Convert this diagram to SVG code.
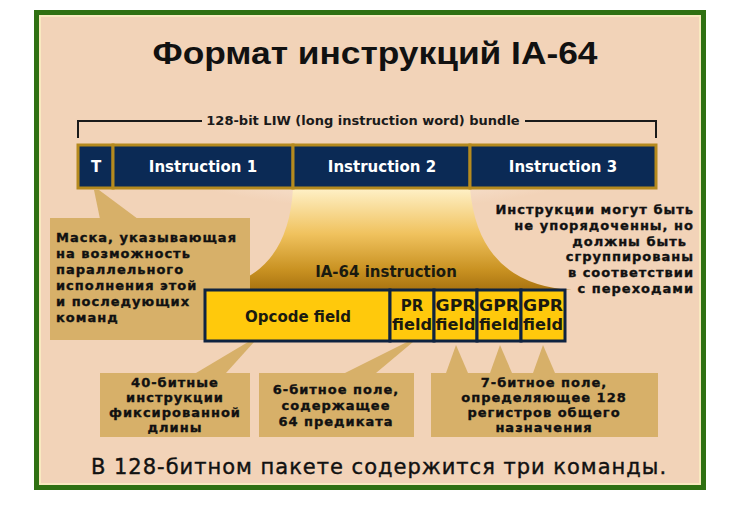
<svg xmlns="http://www.w3.org/2000/svg" width="752" height="509" viewBox="0 0 752 509">
<defs>
<linearGradient id="cone" x1="0" y1="0" x2="0" y2="1">
<stop offset="0" stop-color="#FFF1C8"/>
<stop offset="0.45" stop-color="#F0C25E"/>
<stop offset="0.8" stop-color="#C99222"/>
<stop offset="1" stop-color="#A97310"/>
</linearGradient>
<radialGradient id="halo" cx="0.5" cy="0" r="0.6">
<stop offset="0" stop-color="#FAE8DA"/>
<stop offset="0.8" stop-color="#F7E2D0"/>
<stop offset="1" stop-color="#F2D3B8"/>
</radialGradient>
<clipPath id="below">
<rect x="40" y="188" width="660" height="120"/>
</clipPath>
<style>
.tan{fill:#D7B069}
.t{font-family:"DejaVu Sans",Verdana,sans-serif;font-weight:bold;font-size:13px;letter-spacing:1px;fill:#111;stroke:#111;stroke-width:0.35px}
.w{font-family:"DejaVu Sans",Verdana,sans-serif;font-weight:bold;font-size:15px;fill:#FFFFFF;text-anchor:middle}
.f{font-family:"DejaVu Sans",Verdana,sans-serif;font-weight:bold;font-size:15px;fill:#1A1A10;text-anchor:middle}
.cell{fill:#0B2A55;stroke:#B58A1E;stroke-width:3}
.fld{fill:#FFC90C;stroke:#0E2340;stroke-width:3}
</style>
</defs>
<rect x="0" y="0" width="752" height="509" fill="#FFFFFF"/>
<rect id="frame" x="36.5" y="12.5" width="667" height="475" fill="#F2D3B8" stroke="#2F7012" stroke-width="5"/>
<rect x="40" y="16" width="660" height="468" fill="none" stroke="#F8E9C0" stroke-width="2"/>
<text id="title" x="375" y="64" font-family="Liberation Sans,Arial,sans-serif" font-weight="bold" font-size="31" fill="#111" text-anchor="middle" textLength="445" lengthAdjust="spacingAndGlyphs">Формат инструкций IA-64</text>

<ellipse cx="382" cy="188" rx="275" ry="105" fill="url(#halo)" clip-path="url(#below)"/>

<g id="connectors">
<path d="M78 138 V121 H202 M525 121 H656 V138" fill="none" stroke="#1A1A1A" stroke-width="2"/>
<polygon class="tan" points="94,190 99,190 138,219 100,219"/>
<path d="M293 188 H470 Q478 284 572 290 H203 Q288 282 293 188 Z" fill="url(#cone)"/>
<polygon class="tan" points="248,342 254,342 226,373 196,373"/>
<polygon class="tan" points="407,342 413,342 376,373 345,373"/>
<polygon class="tan" points="456,345 446,373 468,373"/>
<polygon class="tan" points="500,345 490,373 512,373"/>
<polygon class="tan" points="543,345 533,373 555,373"/>
</g>

<text id="bundle-label" x="363" y="125" font-family="DejaVu Sans,Verdana,sans-serif" font-weight="bold" font-size="13" fill="#1A1A1A" text-anchor="middle">128-bit LIW (long instruction word) bundle</text>

<g id="bundle">
<rect class="cell" x="78" y="145" width="35" height="43"/>
<text class="w" x="96" y="172">T</text>
<rect class="cell" x="113" y="145" width="180" height="43"/>
<text class="w" x="203" y="172">Instruction 1</text>
<rect class="cell" x="293" y="145" width="177" height="43"/>
<text class="w" x="382" y="172">Instruction 2</text>
<rect class="cell" x="470" y="145" width="186" height="43"/>
<text class="w" x="563" y="172">Instruction 3</text>
</g>

<g id="mask-note">
<rect class="tan" x="50" y="218" width="200" height="122"/>
<text class="t" x="56" y="242">Маска, указывающая</text>
<text class="t" x="56" y="258">на возможность</text>
<text class="t" x="56" y="274">параллельного</text>
<text class="t" x="56" y="290">исполнения этой</text>
<text class="t" x="56" y="306">и последующих</text>
<text class="t" x="56" y="322">команд</text>
</g>

<g id="order-note">
<text class="t" x="694" y="214" text-anchor="end">Инструкции могут быть</text>
<text class="t" x="694" y="230" text-anchor="end">не упорядоченны, но</text>
<text class="t" x="687" y="246" text-anchor="end">должны быть</text>
<text class="t" x="694" y="261" text-anchor="end">сгруппированы</text>
<text class="t" x="694" y="277" text-anchor="end">в соответствии</text>
<text class="t" x="694" y="293" text-anchor="end">с переходами</text>
</g>

<text id="ia64-label" x="386" y="277" class="f">IA-64 instruction</text>

<g id="ia64-instruction">
<rect class="fld" x="205" y="290" width="185" height="51"/>
<text class="f" x="298" y="322">Opcode field</text>
<rect class="fld" x="390" y="290" width="44" height="51"/>
<text class="f" x="412" y="311">PR</text>
<text class="f" x="412" y="330" textLength="40" lengthAdjust="spacingAndGlyphs">field</text>
<rect class="fld" x="434" y="290" width="43" height="51"/>
<text class="f" x="455.5" y="311" textLength="40" lengthAdjust="spacingAndGlyphs">GPR</text>
<text class="f" x="455.5" y="330" textLength="40" lengthAdjust="spacingAndGlyphs">field</text>
<rect class="fld" x="477" y="290" width="44" height="51"/>
<text class="f" x="499" y="311" textLength="40" lengthAdjust="spacingAndGlyphs">GPR</text>
<text class="f" x="499" y="330" textLength="40" lengthAdjust="spacingAndGlyphs">field</text>
<rect class="fld" x="521" y="290" width="44" height="51"/>
<text class="f" x="543" y="311" textLength="40" lengthAdjust="spacingAndGlyphs">GPR</text>
<text class="f" x="543" y="330" textLength="40" lengthAdjust="spacingAndGlyphs">field</text>
</g>

<g id="opcode-note">
<rect class="tan" x="100" y="373" width="150" height="64"/>
<text class="t" x="175" y="387" text-anchor="middle">40-битные</text>
<text class="t" x="175" y="402" text-anchor="middle">инструкции</text>
<text class="t" x="175" y="417" text-anchor="middle">фиксированной</text>
<text class="t" x="175" y="432" text-anchor="middle">длины</text>
</g>
<g id="pr-note">
<rect class="tan" x="259" y="373" width="155" height="64"/>
<text class="t" x="336" y="394" text-anchor="middle">6-битное поле,</text>
<text class="t" x="336" y="410" text-anchor="middle">содержащее</text>
<text class="t" x="336" y="426" text-anchor="middle">64 предиката</text>
</g>
<g id="gpr-note">
<rect class="tan" x="431" y="373" width="227" height="64"/>
<text class="t" x="544" y="387" text-anchor="middle">7-битное поле,</text>
<text class="t" x="544" y="402" text-anchor="middle">определяющее 128</text>
<text class="t" x="544" y="417" text-anchor="middle">регистров общего</text>
<text class="t" x="544" y="432" text-anchor="middle">назначения</text>
</g>

<text id="caption" x="379" y="474" font-family="DejaVu Sans,Verdana,sans-serif" font-size="21" letter-spacing="1" fill="#111" stroke="#111" stroke-width="0.4" text-anchor="middle">В 128-битном пакете содержится три команды.</text>
</svg>
